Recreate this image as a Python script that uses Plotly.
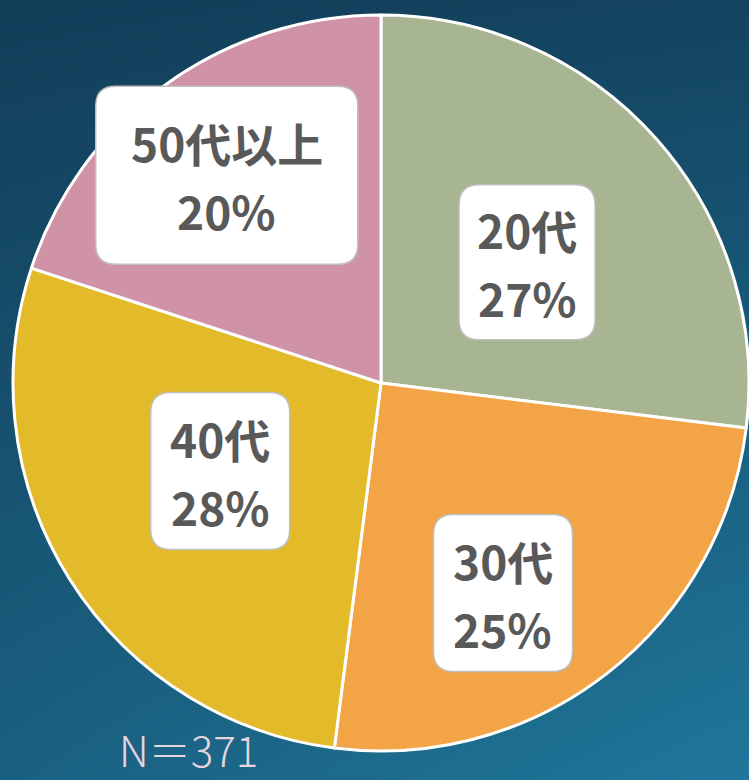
import math

import plotly.graph_objects as go

# data (respondents by age group, N=371)
age_groups = ["20代", "30代", "40代", "50代以上"]
counts = [100, 93, 104, 74]
percent_labels = ["27%", "25%", "28%", "20%"]
slice_colors = ["#a7b592", "#f2a446", "#e3bb2a", "#cf92a7"]
sample_note = "N＝371"

W, H = 749, 780
CX, CY, R = 381, 383, 368  # pie centre / radius in px (from top-left)

# label box placement relative to the slice mid angle: (radius fraction, angle nudge deg, box w, box h)
LABEL_STYLE = [
    (0.515, 1.9, 136, 155),
    (0.66, 7.7, 139, 157),
    (0.498, 3.6, 139, 157),
    (0.703, -0.7, 262, 178),
]
TEXT_COLOR = "#595959"
FONT = "Noto Sans CJK JP"


def rounded_box(w, h, r=20):
    x0, x1, y0, y1 = -w / 2, w / 2, -h / 2, h / 2
    return (
        f"M {x0 + r},{y0} L {x1 - r},{y0} Q {x1},{y0} {x1},{y0 + r} "
        f"L {x1},{y1 - r} Q {x1},{y1} {x1 - r},{y1} L {x0 + r},{y1} "
        f"Q {x0},{y1} {x0},{y1 - r} L {x0},{y0 + r} Q {x0},{y0} {x0 + r},{y0} Z"
    )


fig = go.Figure()

# background gradient
fig.add_trace(
    go.Heatmap(
        x=[0, 1],
        y=[0, 1],
        z=[[0.6, 1.0], [0.0, 0.1]],
        zsmooth="best",
        colorscale=[[0, "#123e59"], [1, "#1f779b"]],
        showscale=False,
        hoverinfo="skip",
    )
)

fig.add_trace(
    go.Pie(
        labels=age_groups,
        values=counts,
        sort=False,
        direction="clockwise",
        rotation=0,
        marker=dict(colors=slice_colors, line=dict(color="white", width=3)),
        textinfo="none",
        hoverinfo="label+percent",
        showlegend=False,
        domain=dict(x=[(CX - R) / W, (CX + R) / W], y=[1 - (CY + R) / H, 1 - (CY - R) / H]),
    )
)

total = sum(counts)
cum = 0
shapes, annotations = [], []
for name, pct, n, (rf, nudge, bw, bh) in zip(age_groups, percent_labels, counts, LABEL_STYLE):
    mid = (cum + n / 2) / total * 360 + nudge
    cum += n
    a = math.radians(mid)
    px = CX + rf * R * math.sin(a)
    py = CY - rf * R * math.cos(a)
    xp, yp = px / W, 1 - py / H
    shapes.append(
        dict(
            type="path",
            xref="paper",
            yref="paper",
            xsizemode="pixel",
            ysizemode="pixel",
            xanchor=xp,
            yanchor=yp,
            path=rounded_box(bw, bh),
            fillcolor="white",
            line=dict(color="#bfbfbf", width=1.5),
            layer="above",
        )
    )
    for txt, shift in ((name, 33), (pct, -35)):
        annotations.append(
            dict(
                x=xp,
                y=yp,
                xref="paper",
                yref="paper",
                text=txt,
                showarrow=False,
                yshift=shift,
                xanchor="center",
                yanchor="middle",
                font=dict(family=FONT, size=46, color=TEXT_COLOR, weight="bold"),
            )
        )

annotations.append(
    dict(
        x=117 / W,
        y=1 - 748 / H,
        xref="paper",
        yref="paper",
        text=sample_note,
        showarrow=False,
        xanchor="left",
        yanchor="middle",
        font=dict(family=FONT, size=42, color="#e8d4df", weight=300),
    )
)

fig.update_layout(
    width=W,
    height=H,
    margin=dict(t=0, b=0, l=0, r=0),
    paper_bgcolor="#123e59",
    plot_bgcolor="#123e59",
    xaxis=dict(range=[0, 1], visible=False, fixedrange=True),
    yaxis=dict(range=[0, 1], visible=False, fixedrange=True),
    shapes=shapes,
    annotations=annotations,
)

# page body has a default 8px margin; drop it so the figure fills the window
fig.write_html(
    "out.html",
    config={"displayModeBar": False},
    post_script="document.body.style.margin='0';",
)
